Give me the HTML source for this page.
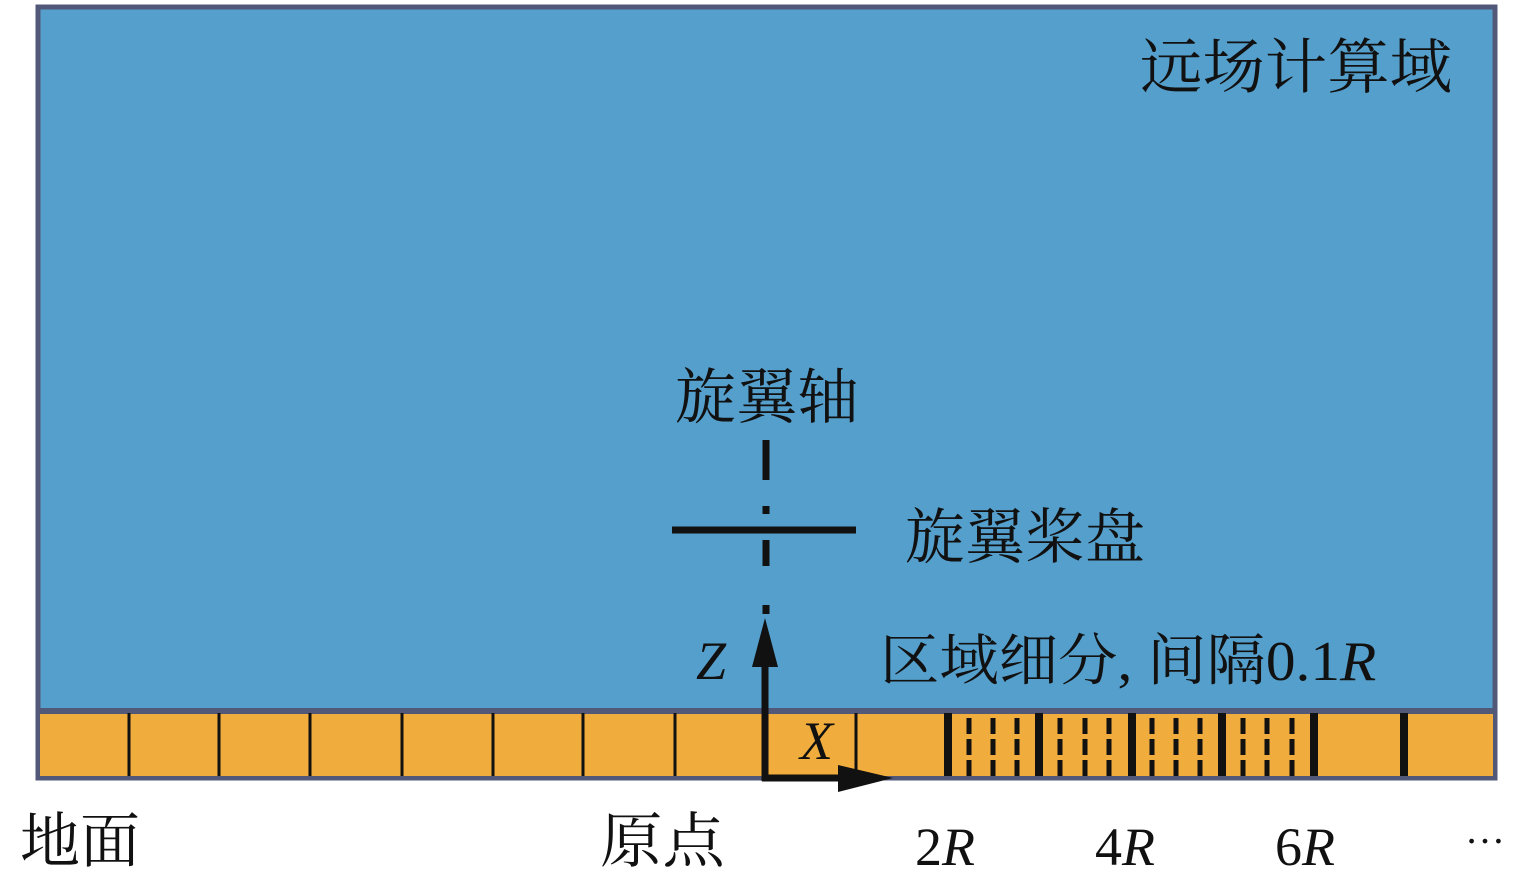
<!DOCTYPE html>
<html><head><meta charset="utf-8"><style>
body{margin:0;width:1537px;height:880px;background:#fff;overflow:hidden;position:relative;font-family:"Liberation Serif","Noto Serif CJK SC",serif;}
.t{position:absolute;color:#111;white-space:nowrap;line-height:1;transform-origin:0 0;}
</style></head><body>
<svg width="1537" height="880" style="position:absolute;left:0;top:0">
<rect x="38" y="7" width="1457" height="771" fill="#559fcc" stroke="#525878" stroke-width="5"/>
<rect x="40" y="711" width="1453" height="65" fill="#f0ac3c"/>
<line x1="38" y1="711" x2="1495" y2="711" stroke="#525878" stroke-width="6"/>
<g stroke="#111" stroke-width="3">
<line x1="129" y1="713" x2="129" y2="776"/><line x1="219" y1="713" x2="219" y2="776"/><line x1="310" y1="713" x2="310" y2="776"/><line x1="402" y1="713" x2="402" y2="776"/><line x1="493" y1="713" x2="493" y2="776"/><line x1="583" y1="713" x2="583" y2="776"/><line x1="675" y1="713" x2="675" y2="776"/><line x1="856" y1="713" x2="856" y2="776"/>
</g>
<g stroke="#111" stroke-width="8">
<line x1="948" y1="713" x2="948" y2="776"/><line x1="1039" y1="713" x2="1039" y2="776"/><line x1="1132" y1="713" x2="1132" y2="776"/><line x1="1222" y1="713" x2="1222" y2="776"/><line x1="1314" y1="713" x2="1314" y2="776"/><line x1="1404" y1="713" x2="1404" y2="776"/>
</g>
<g stroke="#111" stroke-width="5" stroke-dasharray="16,5">
<line x1="969" y1="718" x2="969" y2="776"/><line x1="993" y1="718" x2="993" y2="776"/><line x1="1017" y1="718" x2="1017" y2="776"/>
<line x1="1060" y1="718" x2="1060" y2="776"/><line x1="1085" y1="718" x2="1085" y2="776"/><line x1="1109" y1="718" x2="1109" y2="776"/>
<line x1="1152" y1="718" x2="1152" y2="776"/><line x1="1176" y1="718" x2="1176" y2="776"/><line x1="1200" y1="718" x2="1200" y2="776"/>
<line x1="1243" y1="718" x2="1243" y2="776"/><line x1="1267" y1="718" x2="1267" y2="776"/><line x1="1292" y1="718" x2="1292" y2="776"/>
</g>
<g stroke="#111" stroke-width="7">
<line x1="766" y1="440" x2="766" y2="480"/><line x1="766" y1="506" x2="766" y2="514"/><line x1="766" y1="540" x2="766" y2="566"/><line x1="766" y1="605" x2="766" y2="614"/>
<line x1="672" y1="530" x2="856" y2="530"/>
<line x1="765" y1="660" x2="765" y2="781"/><line x1="762" y1="778" x2="850" y2="778"/>
</g>
<polygon points="765,618 752,667 778,667" fill="#111"/>
<polygon points="893,778 838,765 838,792" fill="#111"/>
</svg>
<div class="t" style="left:1140px;top:38px;font-size:60px;transform:scaleX(1.04)">远场计算域</div>
<div class="t" style="left:675px;top:368px;font-size:60px;transform:scaleX(1.02)">旋翼轴</div>
<div class="t" style="left:905px;top:508px;font-size:60px;transform:scaleX(1.0)">旋翼桨盘</div>
<div class="t" style="left:880px;top:634px;font-size:56px;transform:scaleX(1.06)">区域细分, 间隔0.1<i>R</i></div>
<div class="t" style="left:696px;top:634px;font-size:54px"><i>Z</i></div>
<div class="t" style="left:800px;top:714px;font-size:54px"><i>X</i></div>
<div class="t" style="left:20px;top:812px;font-size:60px">地面</div>
<div class="t" style="left:600px;top:812px;font-size:60px;transform:scaleX(1.04)">原点</div>
<div class="t" style="left:915px;top:820px;font-size:54px">2<i>R</i></div>
<div class="t" style="left:1095px;top:820px;font-size:54px">4<i>R</i></div>
<div class="t" style="left:1275px;top:820px;font-size:54px">6<i>R</i></div>
<div class="t" style="left:1465px;top:810px;font-size:40px">…</div>
</body></html>
